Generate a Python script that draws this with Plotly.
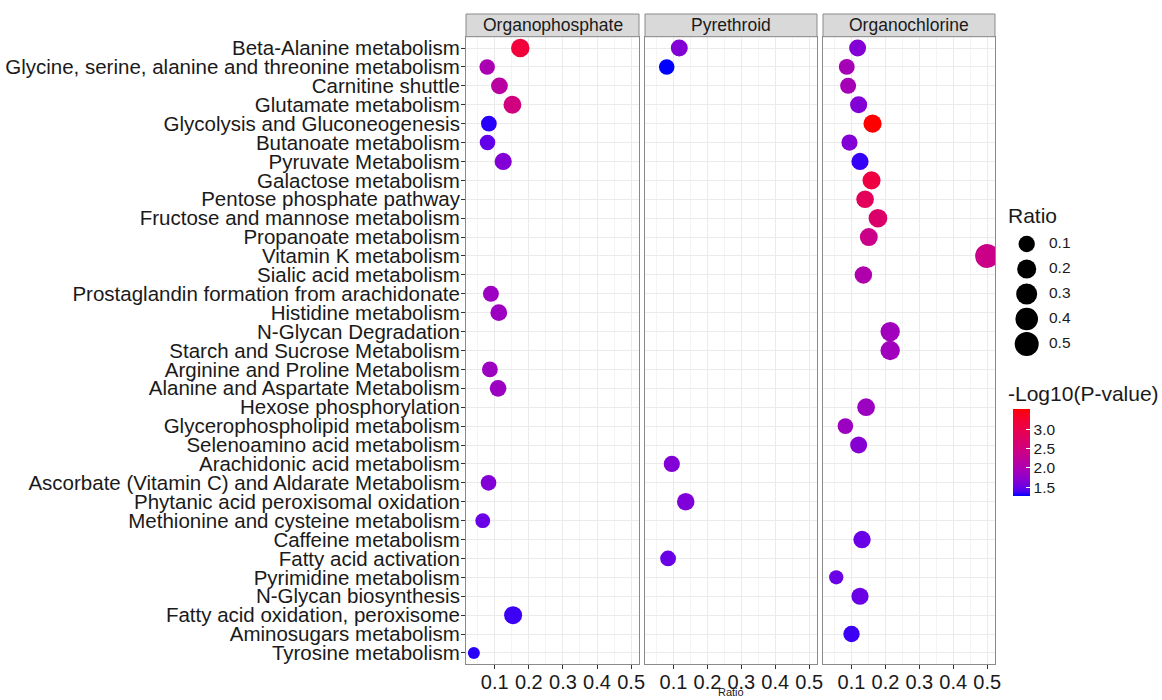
import math
import plotly.graph_objects as go

W, H = 1162, 700

pathways = [
    "Beta-Alanine metabolism",
    "Glycine, serine, alanine and threonine metabolism",
    "Carnitine shuttle",
    "Glutamate metabolism",
    "Glycolysis and Gluconeogenesis",
    "Butanoate metabolism",
    "Pyruvate Metabolism",
    "Galactose metabolism",
    "Pentose phosphate pathway",
    "Fructose and mannose metabolism",
    "Propanoate metabolism",
    "Vitamin K metabolism",
    "Sialic acid metabolism",
    "Prostaglandin formation from arachidonate",
    "Histidine metabolism",
    "N-Glycan Degradation",
    "Starch and Sucrose Metabolism",
    "Arginine and Proline Metabolism",
    "Alanine and Aspartate Metabolism",
    "Hexose phosphorylation",
    "Glycerophospholipid metabolism",
    "Selenoamino acid metabolism",
    "Arachidonic acid metabolism",
    "Ascorbate (Vitamin C) and Aldarate Metabolism",
    "Phytanic acid peroxisomal oxidation",
    "Methionine and cysteine metabolism",
    "Caffeine metabolism",
    "Fatty acid activation",
    "Pyrimidine metabolism",
    "N-Glycan biosynthesis",
    "Fatty acid oxidation, peroxisome",
    "Aminosugars metabolism",
    "Tyrosine metabolism",
]

groups = ["Organophosphate", "Pyrethroid", "Organochlorine"]

op_pathways = [
    "Beta-Alanine metabolism",
    "Glycine, serine, alanine and threonine metabolism",
    "Carnitine shuttle",
    "Glutamate metabolism",
    "Glycolysis and Gluconeogenesis",
    "Butanoate metabolism",
    "Pyruvate Metabolism",
    "Prostaglandin formation from arachidonate",
    "Histidine metabolism",
    "Arginine and Proline Metabolism",
    "Alanine and Aspartate Metabolism",
    "Ascorbate (Vitamin C) and Aldarate Metabolism",
    "Methionine and cysteine metabolism",
    "Fatty acid oxidation, peroxisome",
    "Tyrosine metabolism",
]
op_ratio = [0.175, 0.078, 0.114, 0.152, 0.083, 0.079, 0.125, 0.089, 0.112,
            0.086, 0.110, 0.082, 0.065, 0.154, 0.039]
op_logp = [3.15, 2.0, 2.16, 2.5, 1.33, 1.48, 1.65, 1.85, 1.85,
           1.85, 1.85, 1.65, 1.5, 1.36, 1.33]

py_pathways = [
    "Beta-Alanine metabolism",
    "Glycine, serine, alanine and threonine metabolism",
    "Arachidonic acid metabolism",
    "Phytanic acid peroxisomal oxidation",
    "Fatty acid activation",
]
py_ratio = [0.117, 0.080, 0.095, 0.136, 0.084]
py_logp = [1.65, 1.27, 1.65, 1.63, 1.5]

oc_pathways = [
    "Beta-Alanine metabolism",
    "Glycine, serine, alanine and threonine metabolism",
    "Carnitine shuttle",
    "Glutamate metabolism",
    "Glycolysis and Gluconeogenesis",
    "Butanoate metabolism",
    "Pyruvate Metabolism",
    "Galactose metabolism",
    "Pentose phosphate pathway",
    "Fructose and mannose metabolism",
    "Propanoate metabolism",
    "Vitamin K metabolism",
    "Sialic acid metabolism",
    "N-Glycan Degradation",
    "Starch and Sucrose Metabolism",
    "Hexose phosphorylation",
    "Glycerophospholipid metabolism",
    "Selenoamino acid metabolism",
    "Caffeine metabolism",
    "Pyrimidine metabolism",
    "N-Glycan biosynthesis",
    "Aminosugars metabolism",
]
oc_ratio = [0.118, 0.086, 0.090, 0.121, 0.162, 0.094, 0.125, 0.159, 0.140,
            0.178, 0.151, 0.500, 0.135, 0.214, 0.214, 0.143, 0.082, 0.121,
            0.131, 0.055, 0.125, 0.100]
oc_logp = [1.65, 1.95, 1.95, 1.65, 3.52, 1.65, 1.35, 3.1, 2.85,
           2.7, 2.4, 2.4, 2.05, 1.9, 1.9, 1.85, 1.85, 1.68,
           1.5, 1.5, 1.5, 1.36]

size_breaks = [0.1, 0.2, 0.3, 0.4, 0.5]
size_break_labels = ["0.1", "0.2", "0.3", "0.4", "0.5"]
color_ticks = [1.5, 2.0, 2.5, 3.0]
color_tick_labels = ["1.5", "2.0", "2.5", "3.0"]
x_ticks = [0.1, 0.2, 0.3, 0.4, 0.5]

series = [(op_pathways, op_ratio, op_logp),
          (py_pathways, py_ratio, py_logp),
          (oc_pathways, oc_ratio, oc_logp)]

# ---- colour scale: ggplot-like Lab gradient blue -> red ----
def srgb_to_lab(rgb):
    def lin(c):
        c = c / 255.0
        return c / 12.92 if c <= 0.04045 else ((c + 0.055) / 1.055) ** 2.4
    r, g, b = [lin(c) for c in rgb]
    X = 0.4124 * r + 0.3576 * g + 0.1805 * b
    Y = 0.2126 * r + 0.7152 * g + 0.0722 * b
    Z = 0.0193 * r + 0.1192 * g + 0.9505 * b
    Xn, Yn, Zn = 0.95047, 1.0, 1.08883
    def f(t):
        return t ** (1 / 3) if t > 0.008856 else 7.787 * t + 16 / 116
    fx, fy, fz = f(X / Xn), f(Y / Yn), f(Z / Zn)
    return (116 * fy - 16, 500 * (fx - fy), 200 * (fy - fz))

def lab_to_srgb(lab):
    L, a, b = lab
    fy = (L + 16) / 116
    fx = fy + a / 500
    fz = fy - b / 200
    def finv(t):
        return t ** 3 if t ** 3 > 0.008856 else (t - 16 / 116) / 7.787
    X, Y, Z = 0.95047 * finv(fx), finv(fy), 1.08883 * finv(fz)
    r = 3.2406 * X - 1.5372 * Y - 0.4986 * Z
    g = -0.9689 * X + 1.8758 * Y + 0.0415 * Z
    bb = 0.0557 * X - 0.2040 * Y + 1.0570 * Z
    def gam(c):
        c = max(0.0, min(1.0, c))
        return 12.92 * c if c <= 0.0031308 else 1.055 * c ** (1 / 2.4) - 0.055
    return tuple(int(round(gam(c) * 255)) for c in (r, g, bb))

low_lab = srgb_to_lab((0, 0, 255))
high_lab = srgb_to_lab((255, 0, 0))
colorscale = []
n = 20
for i in range(n + 1):
    t = i / n
    lab = tuple(low_lab[k] + t * (high_lab[k] - low_lab[k]) for k in range(3))
    r, g, b = lab_to_srgb(lab)
    colorscale.append([t, f"rgb({r},{g},{b})"])

all_ratio = op_ratio + py_ratio + oc_ratio
all_logp = op_logp + py_logp + oc_logp
rmin, rmax = min(all_ratio), max(all_ratio)
cmin, cmax = min(all_logp), max(all_logp)

DMIN, DMAX = 12.0, 24.0
def diam(v):
    t = max(0.0, (v - rmin) / (rmax - rmin))
    return DMIN + math.sqrt(t) * (DMAX - DMIN)

span = rmax - rmin
xrange = [rmin - 0.05 * span, rmax + 0.05 * span]

# ---- layout geometry (px) ----
panel_x = [(466, 639), (645, 817), (823, 995)]
ptop, pbot = 36.7, 664.3
strip_top = 14
ydom = [1 - pbot / H, 1 - ptop / H]

FONT = "Arial, Liberation Sans, sans-serif"
TXT = "#1a1a1a"
GRID = "#EBEBEB"
BORDER = "#8a8a8a"

fig = go.Figure()

for i, (pw, rr, lp) in enumerate(series):
    ax = "" if i == 0 else str(i + 1)
    fig.add_trace(go.Scatter(
        x=rr, y=pw, mode="markers",
        xaxis="x" + ax, yaxis="y" + ax,
        marker=dict(size=[diam(v) for v in rr], sizemode="diameter",
                    color=lp, coloraxis="coloraxis", opacity=1,
                    line=dict(width=0)),
        showlegend=False, name=groups[i],
        hovertemplate="%{y}<br>Ratio=%{x}<br>-Log10(P)=%{marker.color}<extra></extra>",
    ))

layout = dict(
    width=W, height=H, autosize=False,
    margin=dict(l=0, r=0, t=0, b=0, pad=0),
    paper_bgcolor="white", plot_bgcolor="white",
    font=dict(family=FONT, color=TXT),
    coloraxis=dict(
        colorscale=colorscale, cmin=cmin, cmax=cmax,
        colorbar=dict(
            x=1012.7 / W, xanchor="left", xpad=0, ypad=0,
            y=1 - 452.5 / H, yanchor="middle",
            len=87, lenmode="pixels", thickness=17, thicknessmode="pixels",
            outlinewidth=0, ticks="inside", tickcolor="white", ticklen=4,
            tickwidth=1,
            tickvals=color_ticks, ticktext=color_tick_labels,
            tickfont=dict(size=15.5, family=FONT, color=TXT),
            title=dict(text=""),
        ),
    ),
    showlegend=False,
)

cats_rev = list(reversed(pathways))
for i, (x0, x1) in enumerate(panel_x):
    ax = "" if i == 0 else str(i + 1)
    xkey = "xaxis" + ax
    ykey = "yaxis" + ax
    layout[xkey] = dict(
        domain=[x0 / W, x1 / W], anchor="y" + ax,
        range=xrange, tickmode="array", tickvals=x_ticks,
        ticktext=[f"{v:.1f}" for v in x_ticks],
        showgrid=True, gridcolor=GRID, gridwidth=1,
        minor=dict(dtick=0.05, tick0=0, showgrid=True, gridcolor="#F4F4F4",
                   gridwidth=0.6, ticks=""),
        showline=True, linecolor=BORDER, linewidth=1, mirror=True,
        ticks="outside", ticklen=4, tickcolor="#333333", tickwidth=1,
        ticklabelstandoff=-4,
        tickfont=dict(size=20, family=FONT, color=TXT),
        zeroline=False, automargin=False, fixedrange=True,
    )
    layout[ykey] = dict(
        domain=ydom, anchor="x" + ax,
        type="category", categoryorder="array", categoryarray=cats_rev,
        tickmode="array", tickvals=pathways, ticktext=pathways,
        range=[-0.6, len(pathways) - 0.4],
        showgrid=True, gridcolor=GRID, gridwidth=1,
        showline=True, linecolor=BORDER, linewidth=1, mirror=True,
        ticks="outside" if i == 0 else "", ticklen=4, tickcolor="#333333",
        ticklabelstandoff=-3,
        showticklabels=(i == 0),
        tickfont=dict(size=20.5, family=FONT, color=TXT),
        zeroline=False, automargin=False, fixedrange=True,
    )

# size legend on its own axes
layout["xaxis4"] = dict(domain=[1000 / W, 1100 / W], anchor="y4",
                        range=[-26.7 / 22.3, 73.3 / 22.3], visible=False,
                        fixedrange=True)
layout["yaxis4"] = dict(domain=[1 - 356.5 / H, 1 - 231.5 / H], anchor="x4",
                        range=[len(size_breaks) - 0.5, -0.5], visible=False,
                        fixedrange=True)
fig.update_layout(**layout)

idx = list(range(len(size_breaks)))
fig.add_trace(go.Scatter(
    x=[0] * len(size_breaks), y=idx, xaxis="x4", yaxis="y4", mode="markers",
    marker=dict(size=[diam(v) for v in size_breaks], sizemode="diameter",
                color="#000000", opacity=1, line=dict(width=0)),
    showlegend=False, hoverinfo="skip"))
fig.add_trace(go.Scatter(
    x=[1] * len(size_breaks), y=idx, xaxis="x4", yaxis="y4", mode="text",
    text=size_break_labels, textposition="middle right",
    textfont=dict(size=15.5, family=FONT, color=TXT),
    showlegend=False, hoverinfo="skip"))

# strips
for (x0, x1), g in zip(panel_x, groups):
    fig.add_shape(type="rect", xref="paper", yref="paper",
                  x0=x0 / W, x1=x1 / W, y0=1 - ptop / H, y1=1 - strip_top / H,
                  fillcolor="#D9D9D9", line=dict(color=BORDER, width=1))
    fig.add_annotation(x=(x0 + x1) / 2 / W, y=1 - (ptop + strip_top) / 2 / H,
                       xref="paper", yref="paper", text=g, showarrow=False,
                       xanchor="center", yanchor="middle",
                       font=dict(size=17.5, family=FONT, color=TXT))

# axis title
fig.add_annotation(x=(panel_x[0][0] + panel_x[2][1]) / 2 / W, y=1 - 692 / H,
                   xref="paper", yref="paper", text="Ratio", showarrow=False,
                   xanchor="center", yanchor="middle",
                   font=dict(size=11, family=FONT, color=TXT))

# legend titles
fig.add_annotation(x=1006 / W, y=1 - 216 / H, xref="paper", yref="paper",
                   text="Ratio", showarrow=False, xanchor="left", yanchor="middle",
                   font=dict(size=21, family=FONT, color=TXT))
fig.add_annotation(x=1006 / W, y=1 - 393 / H, xref="paper", yref="paper",
                   text="-Log10(P-value)", showarrow=False, xanchor="left",
                   yanchor="middle", font=dict(size=21, family=FONT, color=TXT))

fig.write_html("out.html", config={"displayModeBar": False},
               post_script="document.body.style.margin='0px';document.body.style.padding='0px';")
